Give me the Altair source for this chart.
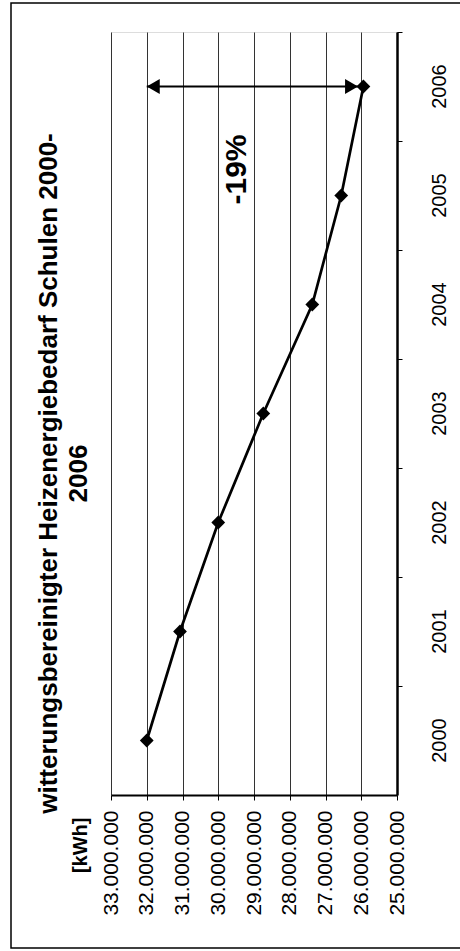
import altair as alt
import pandas as pd

# ---- data ----
years = ["2000", "2001", "2002", "2003", "2004", "2005", "2006"]
values = [32000000, 31070000, 30000000, 28740000, 27370000, 26560000, 25940000]
value_ticks = [25000000, 26000000, 27000000, 28000000, 29000000,
               30000000, 31000000, 32000000, 33000000]
arrow_year = ["2006"]
arrow_from = [32000000]
arrow_to = [26090000]
note_text = ["-19%"]
note_value = [29480000]
note_year = ["2005"]
title_lines = ["witterungsbereinigter Heizenergiebedarf Schulen 2000-", "2006"]
unit_label = "[kWh]"

FONT = "Liberation Sans"

df = pd.DataFrame({"year": years, "value": values})
df_arrow = pd.DataFrame({"year": arrow_year, "from": arrow_from, "to": arrow_to})
df_note = pd.DataFrame({"year": note_year, "value": note_value, "text": note_text})

x_scale = alt.Scale(domain=[value_ticks[0], value_ticks[-1]], reverse=True, nice=False, zero=False)
y_scale = alt.Scale(domain=years[::-1], paddingInner=0, paddingOuter=0)

x_axis = alt.Axis(
    values=value_ticks,
    labelExpr="replace(format(datum.value, ','), regexp(',', 'g'), '.')",
    labelAngle=270, labelAlign="right", labelBaseline="middle",
    labelPadding=10, labelFlush=False, labelOverlap=False,
    labelFontSize=21, labelFont=FONT, labelColor="black",
    tickSize=5, tickColor="black", domainColor="black", domainWidth=2,
    grid=True, gridColor="#333333", gridWidth=1,
    title=unit_label, titleAngle=270, titleAlign="right", titleBaseline="middle",
    titleX=-31, titleY=22, titleFontSize=20, titleFontWeight="bold",
    titleFont=FONT, titleColor="black",
)
y_axis = alt.Axis(
    orient="right", labelAngle=270, labelAlign="center", labelBaseline="middle",
    labelPadding=37, labelFontSize=20, labelFont=FONT, labelColor="black",
    tickSize=5, tickColor="black", bandPosition=0,
    domainColor="black", domainWidth=2.5, grid=False, title=None,
)

X = alt.X("value:Q", scale=x_scale, axis=x_axis)
Y = alt.Y("year:O", scale=y_scale, axis=y_axis, sort=None)

line = alt.Chart(df).mark_line(color="black", strokeWidth=2.7).encode(
    x=X, y=Y, order=alt.Order("year:O"))
pts = alt.Chart(df).mark_point(shape="diamond", filled=True, color="black",
                                size=190, opacity=1).encode(x=X, y=Y)

arrow_rule = alt.Chart(df_arrow).mark_rule(color="black", strokeWidth=2).encode(
    x=alt.X("from:Q", scale=x_scale, axis=x_axis), x2="to:Q", y=Y)
head_left = alt.Chart(df_arrow).mark_point(
    shape="triangle-left", filled=True, color="black", size=225, opacity=1,
    xOffset=6.5).encode(x=alt.X("from:Q", scale=x_scale, axis=x_axis), y=Y)
head_right = alt.Chart(df_arrow).mark_point(
    shape="triangle-right", filled=True, color="black", size=225, opacity=1,
    xOffset=-6.5).encode(x=alt.X("to:Q", scale=x_scale, axis=x_axis), y=Y)

note = alt.Chart(df_note).mark_text(
    angle=270, fontSize=30, fontWeight="bold", font=FONT, color="black",
    align="center", baseline="middle", yOffset=-26).encode(x=X, y=Y, text="text:N")

frame = alt.Chart(pd.DataFrame({"k": [0]})).mark_rect(
    fill="transparent", stroke="black", strokeWidth=1.5).encode(
    x=alt.value(-100), x2=alt.value(360), y=alt.value(-29), y2=alt.value(916))

chart = alt.layer(frame, line, pts, arrow_rule, head_left, head_right, note).properties(
    width=286, height=763,
    autosize=alt.AutoSizeParams(type="none"),
    padding={"left": 111, "top": 32, "right": 63, "bottom": 156},
    title=alt.TitleParams(
        text=title_lines, orient="left", anchor="middle",
        fontSize=26, fontWeight="bold", font=FONT, color="black",
        lineHeight=30, offset=-82, dx=-60),
).configure_view(stroke="black", strokeWidth=2).configure(background="white")

chart.save("out.html", embed_options={"renderer": "svg", "actions": False})
